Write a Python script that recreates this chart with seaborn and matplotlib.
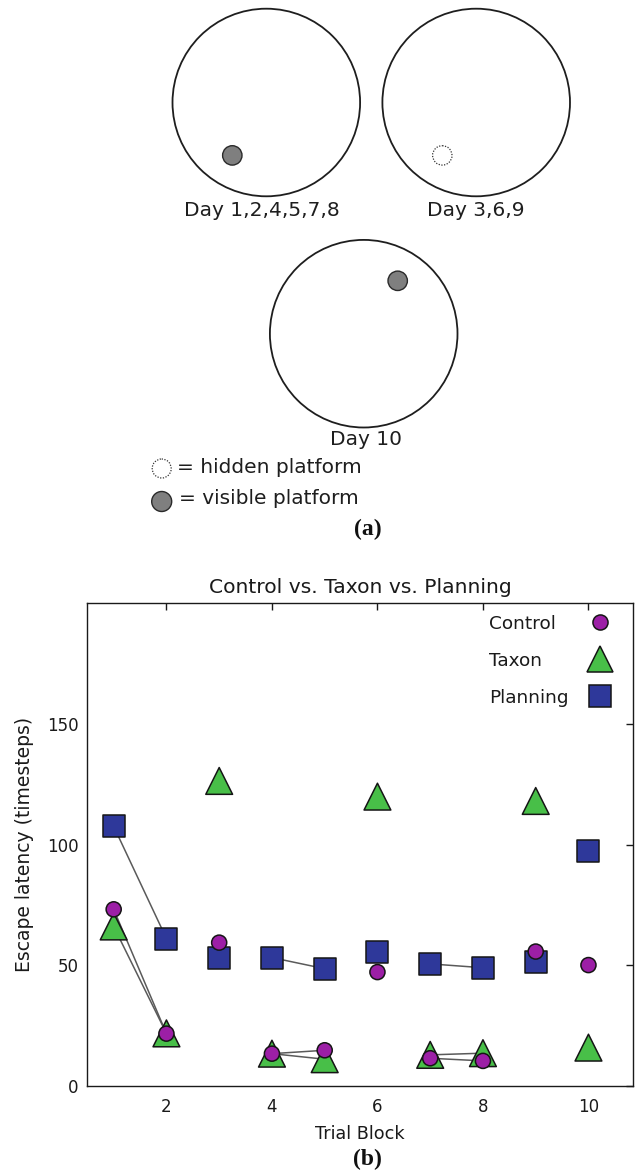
import numpy as np
import pandas as pd
import matplotlib
matplotlib.use("Agg")
import matplotlib.pyplot as plt
from matplotlib.patches import Circle
from matplotlib.lines import Line2D
import seaborn as sns

# ---------------- data ----------------
trial_blocks = [1, 2, 3, 4, 5, 6, 7, 8, 9, 10]
control = [73.2, 21.7, 59.4, 13.4, 14.8, 47.2, 11.5, 10.4, 55.7, 50.1]
taxon = [66.1, 21.8, 126.4, 13.4, 11.1, 119.9, 12.9, 13.6, 118.1, 15.9]
planning = [107.6, 61.1, 53.2, 53.2, 48.6, 55.4, 50.6, 49.0, 51.2, 97.3]
model_names = ["Control", "Taxon", "Planning"]
linked_blocks = [(1, 2), (4, 5), (7, 8)]
x_ticks = [2, 4, 6, 8, 10]
y_ticks = [0, 50, 100, 150]

day_labels = ["Day 1,2,4,5,7,8", "Day 3,6,9", "Day 10"]
key_labels = ["= hidden platform", "= visible platform"]

# ---------------- styles ----------------
colors = {"Control": "#9c1fa6", "Taxon": "#48bf48", "Planning": "#2e389a"}
markers = {"Control": "o", "Taxon": "^", "Planning": "s"}
sizes = {"Control": 118, "Taxon": 372, "Planning": 250}
edge = "#151515"
ink = "#1a1a1a"

sns.set_theme(style="white")
plt.rcParams["font.family"] = ["DejaVu Sans"]

W, H = 636, 1171
fig = plt.figure(figsize=(W / 100, H / 100), dpi=100)

# ---------------- (a) schematic ----------------
sx = fig.add_axes([0, 1 - 560 / H, 1, 560 / H])
sx.set_xlim(0, W)
sx.set_ylim(560, 0)
sx.axis("off")

pool_r = 93.8
pools = [(266.3, 102.5), (476.2, 102.5), (363.7, 333.7)]
for c in pools:
    sx.add_patch(Circle(c, pool_r, fill=False, ec="#1e1e1e", lw=1.3))

vis_style = dict(fc="#7f7f7f", ec="#2a2a2a", lw=1.0)
hid_style = dict(fill=False, ec="#333333", lw=0.9, ls=(0, (1, 1.2)))
sx.add_patch(Circle((232.3, 155.4), 9.7, **vis_style))
sx.add_patch(Circle((442.3, 155.4), 9.7, **hid_style))
sx.add_patch(Circle((397.7, 280.8), 9.7, **vis_style))
sx.add_patch(Circle((161.7, 468.5), 9.5, **hid_style))
sx.add_patch(Circle((161.7, 501.5), 10.0, **vis_style))

label_pos = [(261.8, 210), (476.0, 210), (365.5, 439.3)]
for (x, y), t in zip(label_pos, day_labels):
    sx.text(x, y, t, ha="center", va="center", fontsize=14.5, color="#1e1e1e")
sx.text(176.7, 467.7, key_labels[0], ha="left", va="center", fontsize=14.5, color="#1e1e1e")
sx.text(179.3, 498.3, key_labels[1], ha="left", va="center", fontsize=14.5, color="#1e1e1e")

fig.text(367.6 / W, 1 - 529 / H, "(a)", ha="center", va="center",
         family=["Liberation Serif"], fontweight="bold", fontsize=17, color="#111111")
fig.text(367.7 / W, 1 - 1159 / H, "(b)", ha="center", va="center",
         family=["Liberation Serif"], fontweight="bold", fontsize=17, color="#111111")

# ---------------- (b) scatter ----------------
rows = []
for name, vals in [("Planning", planning), ("Taxon", taxon), ("Control", control)]:
    for b, v in zip(trial_blocks, vals):
        rows.append({"block": b, "latency": v, "model": name})
df = pd.DataFrame(rows)

seg_rows = []
for name, vals in [("Planning", planning), ("Taxon", taxon), ("Control", control)]:
    lookup = dict(zip(trial_blocks, vals))
    for i, pair in enumerate(linked_blocks):
        for b in pair:
            seg_rows.append({"block": b, "latency": lookup[b], "seg": f"{name}-{i}"})
dl = pd.DataFrame(seg_rows)

ax = fig.add_axes([87.3 / W, 1 - 1086 / H, (633.3 - 87.3) / W, (1086 - 603.3) / H])

sns.lineplot(data=dl, x="block", y="latency", units="seg", estimator=None,
             color="#5a5a5a", linewidth=1.1, ax=ax, legend=False, zorder=2)
sns.scatterplot(data=df, x="block", y="latency", hue="model", style="model", size="model",
                palette=colors, markers=markers, sizes=sizes, edgecolor=edge, linewidth=1.1,
                legend=False, ax=ax, zorder=3)

ax.set_xlim(0.5, 10.85)
ax.set_ylim(0, 200)
ax.set_xticks(x_ticks)
ax.set_yticks(y_ticks)
ax.tick_params(direction="in", top=True, right=True, length=4.7, width=1.0,
               colors=ink, labelsize=12)
ax.tick_params(axis="x", pad=8.3)
ax.tick_params(axis="y", pad=6.5)
for s in ax.spines.values():
    s.set_linewidth(1.0)
    s.set_color(ink)
ax.set_xlabel("Trial Block", fontsize=12.7, labelpad=7, color=ink)
ax.set_ylabel("Escape latency (timesteps)", fontsize=13.5, labelpad=9, color=ink)
ax.set_title("Control vs. Taxon vs. Planning", fontsize=14.6, pad=7.5, color=ink)

handles = [Line2D([], [], ls="none", marker=markers[m], markersize=np.sqrt(sizes[m]),
                  markerfacecolor=colors[m], markeredgecolor=edge, markeredgewidth=1.1)
           for m in model_names]
leg = ax.legend(handles, model_names, loc="upper right", bbox_to_anchor=(0.956, 0.976),
                markerfirst=False, frameon=False, fontsize=13.3, handlelength=1.0,
                handletextpad=1.2, labelspacing=1.02, borderpad=0, borderaxespad=0,
                numpoints=1, labelcolor=ink)

# left-align the legend labels while keeping the markers in one column
fig.canvas.draw()
r = fig.canvas.get_renderer()
texts = leg.get_texts()
widths = [t.get_window_extent(r).width for t in texts]
maxw = max(widths)
column = leg._legend_handle_box.get_children()[0]
for row, w in zip(column.get_children(), widths):
    row.sep = leg.handletextpad * leg._fontsize + (maxw - w) * 72.0 / fig.dpi

fig.savefig("out.png", dpi=100)
